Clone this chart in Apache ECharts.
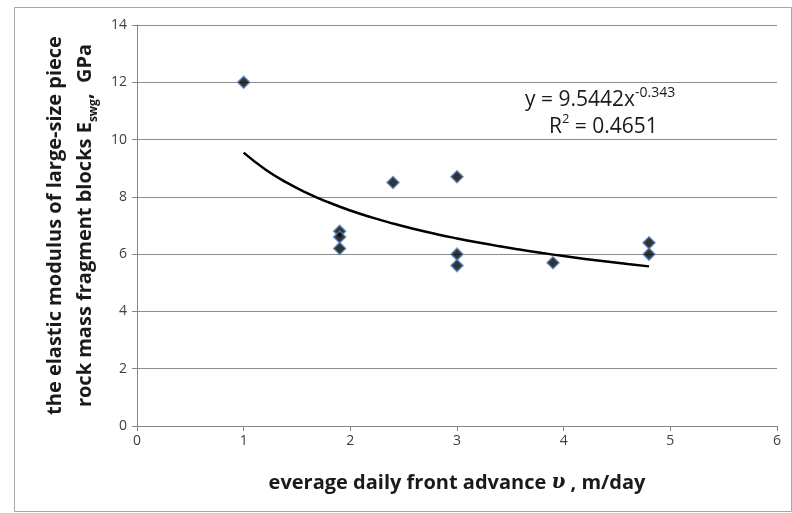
<!DOCTYPE html>
<html>
<head>
<meta charset="utf-8">
<script src="https://cdn.jsdelivr.net/npm/echarts@6/dist/echarts.min.js"></script>
<style>
  html, body { margin: 0; padding: 0; background: #fff; }
  #chart { width: 792px; height: 513px; }
</style>
</head>
<body>
<div id="chart"></div>
<script>
// measured points
var advanceX = [1, 1.9, 1.9, 1.9, 2.4, 3, 3, 3, 3.9, 4.8, 4.8];
var modulusY = [12, 6.8, 6.6, 6.2, 8.5, 8.7, 6.0, 5.6, 5.7, 6.4, 6.0];

// power trendline
var trendX = [1, 1.2, 1.4, 1.6, 1.8, 2.0, 2.2, 2.4, 2.6, 2.8, 3.0, 3.2, 3.4, 3.6, 3.8, 4.0, 4.2, 4.4, 4.6, 4.8];
var trendY = [9.544, 8.966, 8.504, 8.123, 7.802, 7.524, 7.282, 7.068, 6.877, 6.704, 6.548, 6.404, 6.272, 6.151, 6.038, 5.932, 5.834, 5.742, 5.655, 5.573];

var pts = advanceX.map(function (x, i) { return [x, modulusY[i]]; });
var trend = trendX.map(function (x, i) { return [x, trendY[i]]; });

var chart = echarts.init(document.getElementById('chart'));
var font = 'Open Sans';

chart.setOption({
    animation: false,
    grid: { left: 137, right: 15, top: 25, bottom: 87 },
    xAxis: {
        type: 'value', min: 0, max: 6, interval: 1,
        axisLine: { show: true, lineStyle: { color: '#868686' } },
        axisTick: { show: true, length: 5, lineStyle: { color: '#868686' } },
        splitLine: { show: false },
        axisLabel: { color: '#404040', fontFamily: font, fontSize: 14, margin: 8 },
        name: '{t|everage daily front advance }{u|υ}{t| , m/day}',
        nameLocation: 'middle', nameGap: 47,
        nameTextStyle: {
            rich: {
                t: { fontFamily: font, fontSize: 20, fontWeight: 'bold', color: '#1a1a1a' },
                u: { fontFamily: 'DejaVu Serif', fontSize: 20, fontStyle: 'italic', fontWeight: 'bold', color: '#1a1a1a' }
            }
        }
    },
    yAxis: {
        type: 'value', min: 0, max: 14, interval: 2,
        axisLine: { show: true, lineStyle: { color: '#868686' } },
        axisTick: { show: true, length: 5, lineStyle: { color: '#868686' } },
        splitLine: { show: true, lineStyle: { color: '#8c8c8c' } },
        axisLabel: { color: '#404040', fontFamily: font, fontSize: 14, margin: 10 },
        name: '{t|the elastic modulus of large-size piece}\n{t|rock mass fragment blocks E}{s|swg}{t|,  GPa}',
        nameLocation: 'middle', nameGap: 37, nameRotate: 90,
        nameTextStyle: {
            align: 'center',
            rich: {
                t: { fontFamily: font, fontSize: 20, fontWeight: 'bold', color: '#1a1a1a', lineHeight: 30 },
                s: { fontFamily: font, fontSize: 12, fontWeight: 'bold', color: '#1a1a1a', lineHeight: 30, verticalAlign: 'bottom', padding: [8, 0, 0, 0] }
            }
        }
    },
    graphic: [
        {
            type: 'rect', left: 12, top: 5, silent: true,
            shape: { width: 777, height: 504 },
            style: { fill: 'none', stroke: '#a6a6a6', lineWidth: 1 }
        },
        {
            type: 'text', left: 525, top: 86, silent: true,
            style: {
                text: '{m|y = 9.5442x}{p|-0.343}',
                rich: {
                    m: { fontFamily: font, fontSize: 21, fill: '#1a1a1a', lineHeight: 28 },
                    p: { fontFamily: font, fontSize: 14, fill: '#1a1a1a', lineHeight: 28, verticalAlign: 'top', padding: [0, 0, 12, 0] }
                }
            }
        },
        {
            type: 'text', left: 549, top: 113, silent: true,
            style: {
                text: '{m|R}{p|2}{m| = 0.4651}',
                rich: {
                    m: { fontFamily: font, fontSize: 21, fill: '#1a1a1a', lineHeight: 28 },
                    p: { fontFamily: font, fontSize: 13, fill: '#1a1a1a', lineHeight: 28, verticalAlign: 'top', padding: [0, 0, 10, 0] }
                }
            }
        }
    ],
    series: [
        {
            type: 'line', data: trend, smooth: true, showSymbol: false,
            lineStyle: { color: '#000', width: 2.5 }, z: 2
        },
        {
            type: 'scatter', data: pts, symbol: 'diamond', symbolSize: 12,
            itemStyle: { color: '#000', borderColor: '#4f81bd', borderWidth: 1.5 }, z: 3
        }
    ]
});
</script>
</body>
</html>
